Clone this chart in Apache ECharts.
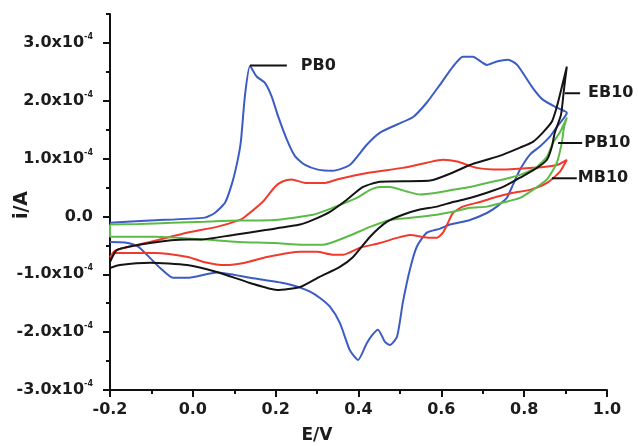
<!DOCTYPE html>
<html><head><meta charset="utf-8">
<script src="https://cdn.jsdelivr.net/npm/echarts@6/dist/echarts.min.js"></script>
<style>html,body{margin:0;padding:0;background:#fff}#c{width:638px;height:446px}</style>
</head><body><div id="c"></div>
<script>
// Tick values (E in V, i in units of 1e-4 A)
const yTickValues = [-3, -2, -1, 0, 1, 2, 3];
const yMinorValues = [-2.5, -1.5, -0.5, 0.5, 1.5, 2.5, 3.5];

// PB0 (blue) cyclic voltammogram [E, i]
const pb0 = [
[-0.2,-0.11],[-0.103,-0.07],[0.029,-0.02],[0.053,0.06],[0.078,0.24],[0.095,0.58],[0.107,0.93],[0.116,1.3],[0.126,2.1],[0.138,2.6],[0.154,2.42],[0.174,2.31],[0.19,2.08],[0.206,1.73],[0.227,1.33],[0.247,1.04],[0.271,0.89],[0.302,0.81],[0.338,0.79],[0.379,0.89],[0.42,1.24],[0.452,1.45],[0.493,1.59],[0.532,1.72],[0.565,1.97],[0.597,2.28],[0.628,2.59],[0.652,2.76],[0.676,2.76],[0.71,2.62],[0.734,2.68],[0.761,2.71],[0.783,2.62],[0.821,2.22],[0.845,2.02],[0.879,1.88],[0.903,1.79],
[0.879,1.55],[0.862,1.38],[0.838,1.21],[0.814,1.07],[0.79,0.81],[0.773,0.55],[0.758,0.32],[0.734,0.17],[0.71,0.06],[0.669,-0.06],[0.621,-0.14],[0.597,-0.21],[0.565,-0.28],[0.541,-0.52],[0.524,-0.92],[0.507,-1.49],[0.493,-2.08],[0.476,-2.22],[0.464,-2.17],[0.447,-1.96],[0.433,-2.05],[0.42,-2.19],[0.399,-2.48],[0.379,-2.31],[0.355,-1.84],[0.331,-1.56],[0.307,-1.41],[0.283,-1.30],[0.259,-1.23],[0.218,-1.15],[0.138,-1.06],[0.058,-0.97],[-0.014,-1.06],[-0.048,-1.06],[-0.079,-0.89],[-0.103,-0.72],[-0.132,-0.52],[-0.164,-0.45],[-0.2,-0.44]
];

// MB10 (red)
const mb10 = [
[-0.2,-0.71],[-0.188,-0.59],[-0.103,-0.44],[-0.014,-0.28],[0.058,-0.18],[0.114,-0.06],[0.126,-0.005],[0.167,0.24],[0.198,0.51],[0.215,0.60],[0.239,0.64],[0.271,0.58],[0.319,0.58],[0.348,0.64],[0.428,0.76],[0.507,0.84],[0.565,0.93],[0.604,0.98],[0.638,0.95],[0.686,0.84],[0.742,0.81],[0.821,0.84],[0.879,0.89],[0.903,0.98],
[0.886,0.77],[0.855,0.58],[0.814,0.46],[0.773,0.41],[0.734,0.34],[0.693,0.25],[0.652,0.17],[0.628,0.06],[0.616,-0.11],[0.604,-0.28],[0.589,-0.37],[0.573,-0.37],[0.524,-0.32],[0.493,-0.37],[0.452,-0.46],[0.404,-0.54],[0.363,-0.66],[0.338,-0.66],[0.3,-0.61],[0.259,-0.61],[0.179,-0.70],[0.126,-0.80],[0.078,-0.84],[0.029,-0.79],[-0.012,-0.70],[-0.091,-0.63],[-0.188,-0.63],[-0.2,-0.71]
];

// EB10 (black)
const eb10 = [
[-0.2,-0.79],[-0.183,-0.58],[-0.103,-0.46],[-0.014,-0.40],[0.017,-0.40],[0.097,-0.32],[0.179,-0.23],[0.259,-0.14],[0.29,-0.06],[0.331,0.08],[0.372,0.29],[0.411,0.51],[0.452,0.60],[0.573,0.62],[0.628,0.76],[0.669,0.89],[0.71,0.98],[0.749,1.07],[0.79,1.19],[0.821,1.29],[0.845,1.45],[0.867,1.64],[0.879,1.90],[0.891,2.24],[0.903,2.59],
[0.896,2.19],[0.889,1.76],[0.874,1.45],[0.867,1.21],[0.855,0.98],[0.831,0.84],[0.79,0.67],[0.749,0.51],[0.71,0.41],[0.669,0.32],[0.628,0.25],[0.589,0.17],[0.548,0.12],[0.507,0.03],[0.469,-0.09],[0.428,-0.35],[0.387,-0.70],[0.355,-0.87],[0.307,-1.04],[0.259,-1.22],[0.203,-1.27],[0.138,-1.15],[0.058,-0.96],[-0.014,-0.84],[-0.103,-0.80],[-0.176,-0.84],[-0.2,-0.89],[-0.2,-0.79]
];

// PB10 (green)
const pb10 = [
[-0.2,-0.14],[-0.132,-0.13],[-0.05,-0.11],[0.029,-0.09],[0.109,-0.07],[0.198,-0.06],[0.29,0.03],[0.338,0.15],[0.396,0.32],[0.428,0.46],[0.452,0.51],[0.476,0.51],[0.517,0.43],[0.548,0.38],[0.589,0.41],[0.628,0.46],[0.669,0.51],[0.71,0.58],[0.749,0.64],[0.79,0.72],[0.831,0.86],[0.855,1.03],[0.87,1.28],[0.886,1.45],[0.903,1.71],
[0.896,1.53],[0.891,1.28],[0.879,0.93],[0.855,0.64],[0.821,0.46],[0.79,0.32],[0.749,0.24],[0.71,0.17],[0.669,0.15],[0.628,0.08],[0.589,0.03],[0.532,-0.02],[0.476,-0.06],[0.428,-0.18],[0.372,-0.35],[0.314,-0.49],[0.266,-0.49],[0.198,-0.46],[0.109,-0.44],[0.029,-0.40],[-0.091,-0.35],[-0.2,-0.35],[-0.2,-0.14]
];

// Curve annotations: name, leader start E, leader end E, leader i
const leaderNames = ['PB0', 'EB10', 'PB10', 'MB10'];
const leaderStartE = [0.138, 0.898, 0.882, 0.867];
const leaderEndE = [0.227, 0.935, 0.94, 0.927];
const leaderI = [2.61, 2.13, 1.27, 0.66];

// styles (kept separate from data)
const leaderGap = [14, 8, 2, 1];
const FONT = 'DejaVu Sans';
const TXT = '#1c1c1c';

const chart = echarts.init(document.getElementById('c'), null, {renderer: 'canvas'});

const curves = [
  {name: 'PB0', data: pb0, color: '#3c5cc4'},
  {name: 'MB10', data: mb10, color: '#f03a2c'},
  {name: 'PB10', data: pb10, color: '#5cbb48'},
  {name: 'EB10', data: eb10, color: '#141414'}
];

const series = curves.map(c => ({
  type: 'line', name: c.name, data: c.data, showSymbol: false, smooth: 0.2,
  lineStyle: {color: c.color, width: 2}, itemStyle: {color: c.color},
  clip: false, z: 2, silent: true
}));

leaderNames.forEach((n, k) => {
  series.push({
    type: 'line', name: n + ' label', showSymbol: false, clip: false, z: 3, silent: true,
    lineStyle: {color: '#111', width: 2},
    endLabel: {show: true, distance: leaderGap[k], formatter: n,
      fontFamily: FONT, fontWeight: 'bold', fontSize: 16, color: TXT},
    data: [[leaderStartE[k], leaderI[k]], [leaderEndE[k], leaderI[k]]]
  });
});

const axisLineStyle = {color: '#111', width: 2};

chart.setOption({
  animation: false,
  backgroundColor: '#fff',
  grid: {left: 110, right: 31, top: 14, bottom: 56, containLabel: false},
  xAxis: {
    type: 'value', min: -0.2, max: 1.0, interval: 0.2,
    axisLine: {show: true, onZero: false, lineStyle: axisLineStyle},
    axisTick: {show: true, length: 7, lineStyle: {color: '#111', width: 2}},
    minorTick: {show: true, splitNumber: 2, length: 4, lineStyle: {color: '#111', width: 2}},
    splitLine: {show: false},
    axisLabel: {margin: 12, fontFamily: FONT, fontWeight: 'bold', fontSize: 16, color: TXT,
      formatter: v => v.toFixed(1)}
  },
  yAxis: [{
    type: 'value', min: -3, max: 3.5,
    axisLine: {show: true, onZero: false, lineStyle: axisLineStyle},
    axisTick: {show: true, length: 7, customValues: yTickValues, lineStyle: {color: '#111', width: 2}},
    splitLine: {show: false},
    axisLabel: {
      customValues: yTickValues, margin: 17,
      formatter: v => v === 0 ? '{m|0.0}' : '{m|' + v.toFixed(1) + 'x10}{s|-4}',
      rich: {
        m: {fontFamily: FONT, fontWeight: 'bold', fontSize: 16, color: TXT, lineHeight: 20},
        s: {fontFamily: FONT, fontWeight: 'bold', fontSize: 8, color: TXT, lineHeight: 20, verticalAlign: 'top', padding: [0, 0, 10, 0]}
      }
    }
  }, {
    type: 'value', min: -3, max: 3.5, position: 'left',
    axisLine: {show: false, onZero: false},
    axisTick: {show: true, length: 4, customValues: yMinorValues, lineStyle: {color: '#111', width: 2}},
    axisLabel: {show: false, customValues: yMinorValues},
    splitLine: {show: false}
  }],
  series: series,
  graphic: [
    {type: 'text', x: 22, y: 205, rotation: Math.PI / 2,
     style: {text: 'i/A', font: 'bold 19px "DejaVu Sans"', fill: TXT, textAlign: 'center', textVerticalAlign: 'middle'}},
    {type: 'text', x: 317, y: 436,
     style: {text: 'E/V', font: 'bold 17px "DejaVu Sans"', fill: TXT, textAlign: 'center', textVerticalAlign: 'middle'}}
  ]
});
</script>
</body></html>
